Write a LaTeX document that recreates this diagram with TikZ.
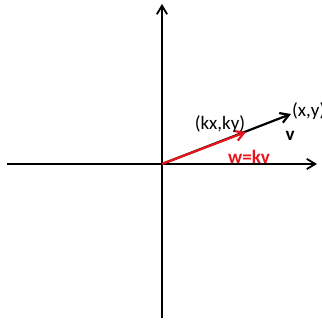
\documentclass[tikz,border=0pt]{standalone}
\usepackage{fontspec}
\setmainfont{Carlito}
\usepackage{tikz}
\usetikzlibrary{arrows.meta,positioning}
\definecolor{VecRed}{HTML}{E8141B}

\begin{document}
\begin{tikzpicture}[x=1pt,y=1pt,
    ax/.style={-{Straight Barb[length=3mm,width=3.6mm]},line width=1.8pt,draw=black},
    vec/.style={-{Straight Barb[length=3mm,width=3.6mm]},line width=2.2pt},
    lbl/.style={inner sep=0pt,font=\fontsize{19}{22}\selectfont}]
    \useasboundingbox (0,0) rectangle (322,320);
    \coordinate (o) at (162,156);
    \coordinate (xl) at (7,156); \coordinate (xr) at (317,156);
    \coordinate (yb) at (162,2); \coordinate (yt) at (162,316);
    \coordinate (v) at (291,206);
    \coordinate (w) at (246,188);
    \draw[ax] (xl)--(xr); \draw[ax] (yb)--(yt);
    \draw[vec,draw=black] (o)--(v);
    \draw[vec,draw=VecRed] (o)--(w);
    \node[lbl,anchor=west] (vxy) at (292,209) {(x,y)};
    \node[lbl] (wxy) at (220,196) {(kx,ky)};
    \node[lbl,font=\fontsize{19}{22}\selectfont\bfseries] (vname) at (290,184) {v};
    \node[lbl,font=\fontsize{19}{22}\selectfont\bfseries,text=VecRed] (wname) at (249,163) {w=kv};
  \end{tikzpicture}
\end{document}
